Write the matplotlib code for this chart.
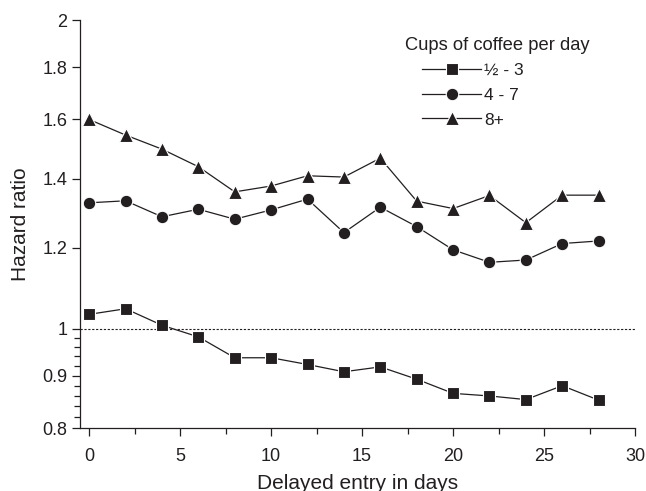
import matplotlib
matplotlib.use('Agg')
import matplotlib.pyplot as plt
from matplotlib.ticker import FixedLocator, FixedFormatter, NullFormatter, MultipleLocator

plt.rcParams['font.family'] = ['Liberation Sans', 'DejaVu Sans']

# delayed entry (days) and hazard ratios per coffee group
days = [0, 2, 4, 6, 8, 10, 12, 14, 16, 18, 20, 22, 24, 26, 28]
hr_low = [1.033, 1.046, 1.008, 0.982, 0.937, 0.937, 0.923, 0.908, 0.918, 0.893, 0.865, 0.860, 0.853, 0.880, 0.852]
hr_mid = [1.327, 1.333, 1.286, 1.308, 1.279, 1.306, 1.338, 1.241, 1.314, 1.258, 1.194, 1.161, 1.167, 1.211, 1.218]
hr_high = [1.600, 1.545, 1.497, 1.439, 1.360, 1.378, 1.410, 1.406, 1.467, 1.332, 1.310, 1.349, 1.269, 1.350, 1.350]
labels = ['\u00bd - 3', '4 - 7', '8+']
legend_title = 'Cups of coffee per day'

yticks = [0.8, 0.9, 1, 1.2, 1.4, 1.6, 1.8, 2]
ytick_labels = ['0.8', '0.9', '1', '1.2', '1.4', '1.6', '1.8', '2']
yminor = [0.82, 0.84, 0.86, 0.88, 0.92, 0.94, 0.96, 0.98]

col = '#231f20'
fig = plt.figure(figsize=(6.46, 4.91), dpi=100)
ax = fig.add_axes([0.124, 0.128, 0.859, 0.831])

ax.axhline(1, color=col, lw=0.8, ls=(0, (2, 1.5)), zorder=1)

kw = dict(color=col, lw=0.9, markeredgecolor='white', markeredgewidth=0.8, zorder=3)
ax.plot(days, hr_low, marker='s', markersize=8, label=labels[0], **kw)
ax.plot(days, hr_mid, marker='o', markersize=9, label=labels[1], **kw)
ax.plot(days, hr_high, marker='^', markersize=10, label=labels[2], **kw)

ax.set_yscale('log')
ax.set_ylim(0.8, 2)
ax.yaxis.set_major_locator(FixedLocator(yticks))
ax.yaxis.set_major_formatter(FixedFormatter(ytick_labels))
ax.yaxis.set_minor_locator(FixedLocator(yminor))
ax.yaxis.set_minor_formatter(NullFormatter())

ax.set_xlim(-0.5, 30)
ax.xaxis.set_major_locator(MultipleLocator(5))
ax.xaxis.set_minor_locator(MultipleLocator(2.5))

for s in ['top', 'right']:
    ax.spines[s].set_visible(False)
for s in ['left', 'bottom']:
    ax.spines[s].set_linewidth(0.9)
    ax.spines[s].set_color(col)

ax.tick_params(which='major', direction='out', length=6, width=0.9, labelsize=13, colors=col)
ax.tick_params(which='minor', direction='out', length=4, width=0.9, colors=col)
ax.tick_params(axis='y', pad=3)
ax.tick_params(axis='x', pad=8)

ax.set_xlabel('Delayed entry in days', fontsize=15, color=col, labelpad=7)
ax.set_ylabel('Hazard ratio', fontsize=15, color=col, labelpad=9)

# legend title drawn separately, it sits left of the handles
fig.text(405 / 646, 1 - 45 / 491, legend_title, fontsize=13.2, color=col, ha='left', va='center')
leg = fig.legend(loc='upper left', bbox_to_anchor=(422 / 646, 1 - 63 / 491),
                 frameon=False, fontsize=12.5, handlelength=3.4,
                 handletextpad=0.2, labelspacing=0.55, borderaxespad=0, borderpad=0)
for t in leg.get_texts():
    t.set_color(col)

fig.savefig('out.png', dpi=100)
